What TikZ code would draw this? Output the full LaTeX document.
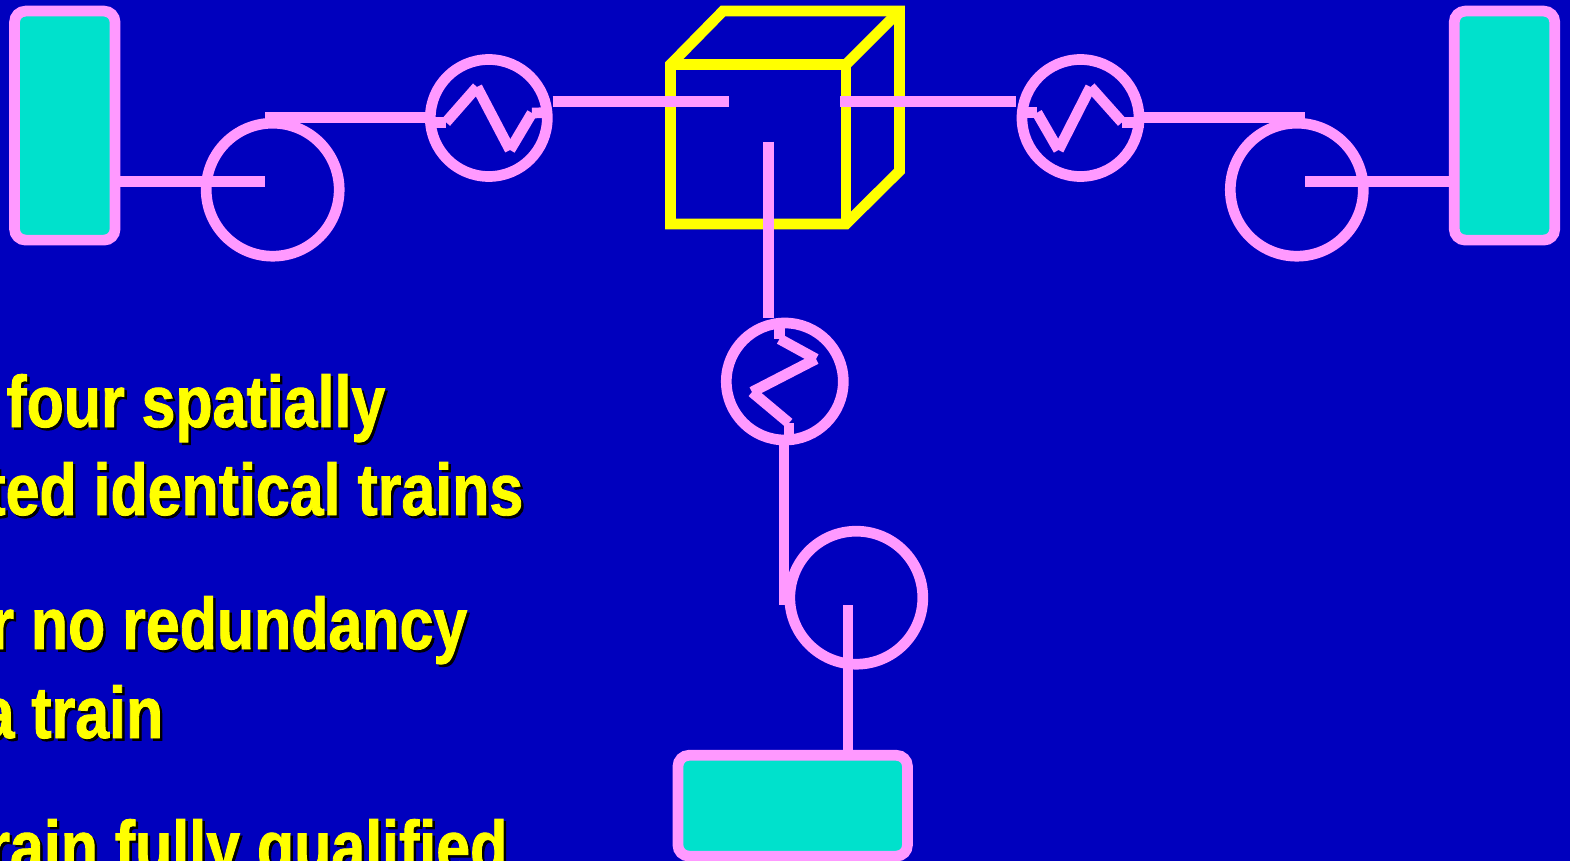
\documentclass[tikz,border=0pt]{standalone}
\usepackage{fontspec}
\setmainfont[FakeStretch=0.834,BoldFont={Liberation Sans Bold},BoldFeatures={FakeBold=1.2}]{Liberation Sans}
\definecolor{bgblue}{HTML}{0000BE}
\definecolor{pinkline}{HTML}{FF99FF}
\definecolor{tealfill}{HTML}{00E1CC}
\definecolor{yel}{HTML}{FFFF00}
\tikzset{
  pipe/.style={draw=pinkline,line width=10.7pt,line cap=butt},
  cube/.style={draw=yel,line width=10.7pt,line join=miter},
  tank/.style={draw=pinkline,fill=tealfill,line width=10.7pt,rounded corners=11pt,inner sep=0pt,outer sep=0pt},
  pump/.style={circle,draw=pinkline,line width=10.7pt,minimum size=133pt,inner sep=0pt,outer sep=0pt},
  hx/.style={circle,draw=pinkline,line width=10.7pt,minimum size=117pt,inner sep=0pt,outer sep=0pt},
  txt/.style={anchor=base east,inner sep=0pt,text=yel,font=\bfseries\fontsize{73}{88}\selectfont},
  shd/.style={anchor=base east,inner sep=0pt,text=black,font=\bfseries\fontsize{73}{88}\selectfont}
}
\begin{document}
\begin{tikzpicture}[x=1pt,y=-1pt]
\useasboundingbox (0,0) rectangle (1570,861);
\clip (0,0) rectangle (1570,861);
\fill[bgblue] (0,0) rectangle (1570,861);

% cube
\draw[cube] (670.5,224) -- (670.5,64.5) -- (723,11) -- (899.5,11) -- (899.5,171) -- (846,224) -- cycle;
\draw[cube] (670.5,64.5) -- (846,64.5) -- (899.5,11);
\draw[cube] (846,64.5) -- (846,224);

% equipment
\node[tank,minimum width=100.5pt,minimum height=229pt] (tankL) at (64.8,125.6) {};
\node[tank,minimum width=100.5pt,minimum height=229pt] (tankR) at (1504.5,125.6) {};
\node[tank,minimum width=229.5pt,minimum height=100.8pt] (tankB) at (792.7,805.7) {};
\node[pump] (pumpL) at (272.7,189.7) {};
\node[pump] (pumpR) at (1296.8,189.7) {};
\node[pump] (pumpB) at (856.3,597.7) {};
\node[hx] (hxL) at (488.8,118) {};
\node[hx] (hxR) at (1080.5,118) {};
\node[hx] (hxB) at (784.8,381.5) {};

% connector ends
\coordinate (lA) at (120,181.7);
\coordinate (lB) at (265,181.7);
\coordinate (lC) at (265,117.7);
\coordinate (lD) at (425,117.7);
\coordinate (cL1) at (552.5,101.5);
\coordinate (cL2) at (728.5,101.5);
\coordinate (cR1) at (840,101.5);
\coordinate (cR2) at (1016,101.5);
\coordinate (cB1) at (768.3,141.7);
\coordinate (cB2) at (768.3,317.5);
\coordinate (rA) at (1449,181.7);
\coordinate (rB) at (1304.5,181.7);
\coordinate (rC) at (1304.5,117.7);
\coordinate (rD) at (1143,117.7);
\coordinate (bA) at (784,445);
\coordinate (bB) at (784,605.3);
\coordinate (bC) at (848,605.3);
\coordinate (bD) at (848,750);

\draw[pipe] (lA) -- (lB);
\draw[pipe] (lC) -- (lD);
\draw[pipe] (cL1) -- (cL2);
\draw[pipe] (cR1) -- (cR2);
\draw[pipe] (cB1) -- (cB2);
\draw[pipe] (rA) -- (rB);
\draw[pipe] (rC) -- (rD);
\draw[pipe] (bA) -- (bB);
\draw[pipe] (bC) -- (bD);

% left exchanger coil
\coordinate (a0) at (432,122.3);
\coordinate (a1) at (446,122.3);
\coordinate (a2) at (477,87);
\coordinate (a3) at (510,150);
\coordinate (a4) at (532,113);
\coordinate (a5) at (546,112.7);
\draw[pipe] (a0) -- (a1);
\draw[pipe] (a1) -- (a2);
\draw[pipe] (a2) -- (a3);
\draw[pipe] (a3) -- (a4);
\draw[pipe] (a4) -- (a5);

% right exchanger coil
\coordinate (c0) at (1022,112.7);
\coordinate (c1) at (1037,112.7);
\coordinate (c2) at (1058.5,150);
\coordinate (c3) at (1090.5,87);
\coordinate (c4) at (1122,122.3);
\coordinate (c5) at (1144,122.3);
\draw[pipe] (c0) -- (c1);
\draw[pipe] (c1) -- (c2);
\draw[pipe] (c2) -- (c3);
\draw[pipe] (c3) -- (c4);
\draw[pipe] (c4) -- (c5);

% bottom exchanger coil
\coordinate (b0) at (779.5,322);
\coordinate (b1) at (779.5,339);
\coordinate (b2) at (816,359);
\coordinate (b3) at (752,392);
\coordinate (b4) at (789,423);
\coordinate (b5) at (789,445);
\draw[pipe] (b0) -- (b1);
\draw[pipe] (b1) -- (b2);
\draw[pipe] (b2) -- (b3);
\draw[pipe] (b3) -- (b4);
\draw[pipe] (b4) -- (b5);

% text
\foreach \nm/\tx/\xx/\yy in {
  a/{four spatially}/385.5/427,
  b/{ted identical trains}/523.5/515,
  c/{r no redundancy}/467.5/649,
  d/{a train}/163.5/738,
  e/{rain fully qualified}/507.5/872}{
  \node[shd] (s\nm) at (\xx+2.5,\yy+2.5) {\tx};
  \node[txt] (t\nm) at (\xx,\yy) {\tx};
}
\end{tikzpicture}
\end{document}
